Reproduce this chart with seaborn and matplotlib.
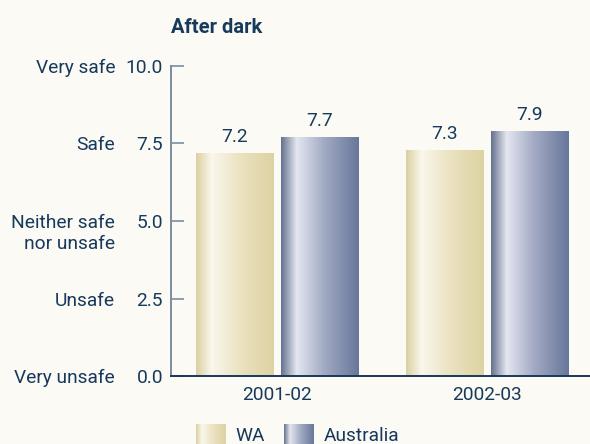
import numpy as np
import pandas as pd
import matplotlib
matplotlib.use("Agg")
import matplotlib.pyplot as plt
import seaborn as sns
from matplotlib.colors import LinearSegmentedColormap
from matplotlib.patches import Patch

# Mean perceived safety score, walking alone after dark
periods = ["2001-02", "2002-03"]
regions = ["WA", "Australia"]
wa_scores = [7.2, 7.3]
aus_scores = [7.7, 7.9]
tick_values = [0.0, 2.5, 5.0, 7.5, 10.0]
rating_labels = ["Very unsafe", "Unsafe", "Neither safe\nnor unsafe", "Safe", "Very safe"]

df = pd.DataFrame({
    "period": periods * 2,
    "region": [regions[0]] * len(periods) + [regions[1]] * len(periods),
    "score": wa_scores + aus_scores,
})

BG = "#fbfaf5"
NAVY = "#17395c"
AXIS_GREY = "#7b8da2"
FS = 13.8

# Cylindrical shading for each series: dark edge, bright highlight, fade back
shade_stops = {
    "WA": [(0.0, "#dad0a0"), (0.2, "#faf7ec"), (0.55, "#ebe3c2"), (1.0, "#ddd2a2")],
    "Australia": [(0.0, "#64728e"), (0.2, "#e4e6f0"), (0.55, "#a3abc4"), (1.0, "#67769a")],
}
base_colors = {"WA": "#e8e0bb", "Australia": "#8e98b4"}
cmaps = {k: LinearSegmentedColormap.from_list(k, v) for k, v in shade_stops.items()}
ramp = np.linspace(0, 1, 256).reshape(1, -1)

sns.set_theme(style="white")
plt.rcParams["font.family"] = ["Roboto", "DejaVu Sans"]
plt.rcParams["text.color"] = NAVY

fig = plt.figure(figsize=(5.9, 4.44), dpi=100, facecolor=BG)
ax = fig.add_axes([171 / 590, 1 - 376 / 444, 1 - 171 / 590, (376 - 66) / 444])
ax.set_facecolor(BG)

sns.barplot(data=df, x="period", y="score", hue="region", order=periods,
            hue_order=regions, palette=base_colors, saturation=1,
            width=0.81, gap=0.09, legend=False, ax=ax)

for container, region in zip(ax.containers, regions):
    for bar in container:
        x0, y0 = bar.get_x(), bar.get_y()
        w, h = bar.get_width(), bar.get_height()
        im = ax.imshow(ramp, cmap=cmaps[region], aspect="auto", origin="lower",
                       extent=[x0, x0 + w, y0, y0 + h], zorder=bar.get_zorder() + 0.1)
        im.set_clip_path(bar)
    ax.bar_label(container, fmt="%.1f", padding=5, color=NAVY, fontsize=FS)

ax.set_xlim(-0.505, 1.49)
ax.set_ylim(0, 10)
ax.set_yticks(tick_values)
ax.set_yticklabels([f"{v:.1f}" for v in tick_values])
ax.set_xlabel("")
ax.set_ylabel("")

for side in ("top", "right"):
    ax.spines[side].set_visible(False)
ax.spines["left"].set_color(AXIS_GREY)
ax.spines["left"].set_linewidth(1.4)
ax.spines["bottom"].set_color(NAVY)
ax.spines["bottom"].set_linewidth(1.4)

ax.tick_params(axis="y", direction="in", length=9.4, width=1.2, color=AXIS_GREY,
               labelcolor=NAVY, labelsize=FS, pad=5.8, left=True)
ax.tick_params(axis="x", length=0, labelcolor=NAVY, labelsize=FS, pad=7)

# Verbal rating scale beside the numeric ticks; extra lines run below the tick
for v, text in zip(tick_values, rating_labels):
    for i, line in enumerate(text.split("\n")):
        ax.annotate(line, xy=(0, v), xycoords=ax.get_yaxis_transform(),
                    xytext=(-40.3, -15 * i), textcoords="offset points",
                    ha="right", va="center_baseline", color=NAVY, fontsize=FS)

ax.set_title("After dark", loc="left", fontsize=14.5, fontweight="bold",
             color=NAVY, pad=24)

handles = [Patch(facecolor=base_colors[r], edgecolor="none") for r in regions]
leg = fig.legend(handles, regions, loc="upper left",
                 bbox_to_anchor=(196 / 590, 1 - 424 / 444), ncol=2, frameon=False,
                 borderpad=0, borderaxespad=0, handlelength=1.55, handleheight=1.4,
                 handletextpad=0.5, columnspacing=1.0, fontsize=FS,
                 labelcolor=NAVY)

fig.canvas.draw()
renderer = fig.canvas.get_renderer()
fw, fh = fig.bbox.width, fig.bbox.height
for handle, region in zip(leg.legend_handles, regions):
    bb = handle.get_window_extent(renderer)
    hax = fig.add_axes([bb.x0 / fw, bb.y0 / fh, bb.width / fw, bb.height / fh])
    hax.imshow(ramp, cmap=cmaps[region], aspect="auto")
    hax.set_axis_off()
    hax.set_zorder(10)

fig.savefig("out.png", dpi=100, facecolor=BG)
